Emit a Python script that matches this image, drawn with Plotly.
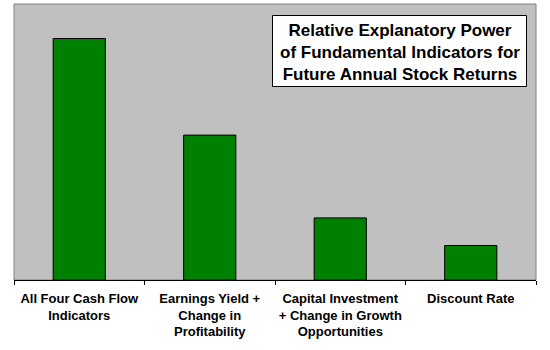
import plotly.graph_objects as go

# Indicator groups and their relative explanatory power
categories = [
    "All Four Cash Flow Indicators",
    "Earnings Yield + Change in Profitability",
    "Capital Investment + Change in Growth Opportunities",
    "Discount Rate",
]
tick_labels = [
    "All Four Cash Flow<br>Indicators",
    "Earnings Yield +<br>Change in<br>Profitability",
    "Capital Investment<br>+ Change in Growth<br>Opportunities",
    "Discount Rate",
]
power = [35, 21, 9, 5]

title_text = ("Relative Explanatory Power<br>"
              "of Fundamental Indicators for<br>"
              "Future Annual Stock Returns")

FONT = "Arial, 'Liberation Sans', sans-serif"

fig = go.Figure(
    go.Bar(
        x=categories,
        y=power,
        marker=dict(color="#008000", line=dict(color="black", width=1)),
        width=0.4,
    )
)

fig.update_layout(
    width=550,
    height=350,
    margin=dict(l=14, r=14, t=4, b=70),
    paper_bgcolor="white",
    plot_bgcolor="#C0C0C0",
    showlegend=False,
    font=dict(family=FONT, color="black"),
    xaxis=dict(
        tickvals=categories,
        ticktext=tick_labels,
        tickson="boundaries",
        ticks="outside",
        ticklen=4,
        tickcolor="black",
        ticklabelstandoff=6,
        showline=True,
        linecolor="black",
        linewidth=1,
        showgrid=False,
        tickfont=dict(size=13, family=FONT, color="black", weight="bold"),
        tickangle=0,
    ),
    yaxis=dict(
        range=[0, 40],
        showticklabels=False,
        showgrid=False,
        zeroline=False,
        ticks="",
    ),
    shapes=[
        # gray frame around the plotting area
        dict(type="rect", xref="paper", yref="paper", x0=0, x1=1, y0=0, y1=1,
             line=dict(color="#808080", width=1), layer="below"),
        # white title box
        dict(type="rect", xref="paper", yref="paper",
             x0=(272.5 - 14) / 522, x1=(526.5 - 14) / 522,
             y0=(280 - 86.5) / 276, y1=(280 - 15.5) / 276,
             line=dict(color="black", width=1), fillcolor="white", layer="above"),
    ],
    annotations=[
        dict(
            text=title_text,
            xref="paper", yref="paper",
            x=(399.5 - 14) / 522, y=(280 - 52) / 276,
            xanchor="center", yanchor="middle",
            showarrow=False,
            align="center",
            font=dict(size=17, family=FONT, color="black", weight="bold"),
        )
    ],
)

fig.write_html("out.html")
